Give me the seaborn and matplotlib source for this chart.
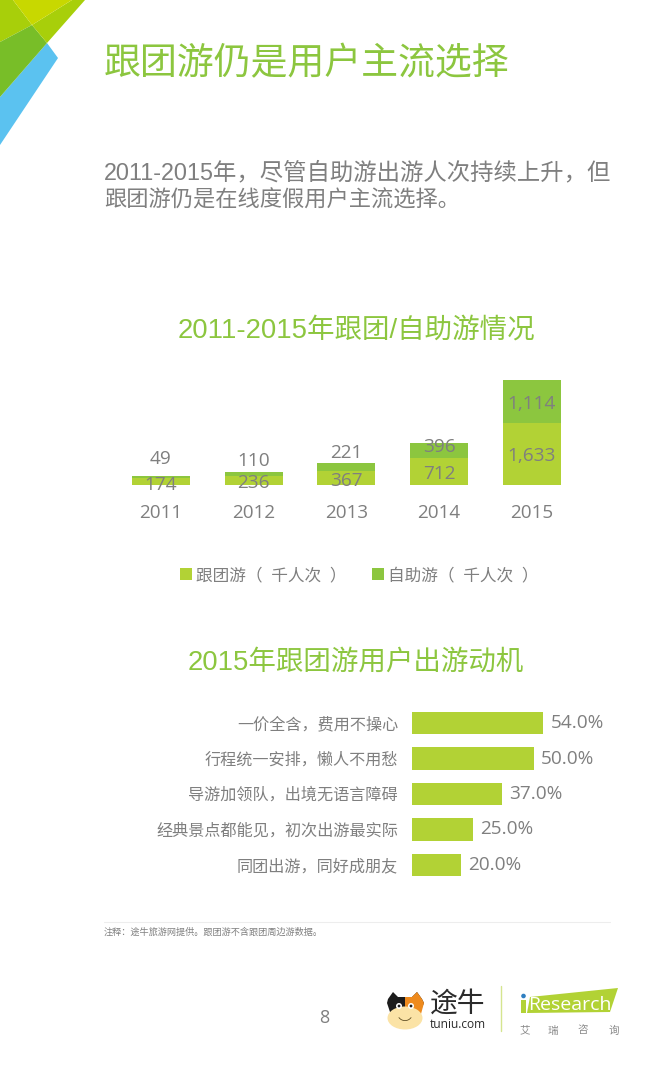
import matplotlib
matplotlib.use("Agg")
import matplotlib.pyplot as plt
from matplotlib.patches import Polygon, Ellipse, Circle, Wedge
import numpy as np
import pandas as pd
import seaborn as sns

# dados do grafico de barras empilhadas
anos = ['2011', '2012', '2013', '2014', '2015']
grupo = [174, 236, 367, 712, 1633]
livre = [49, 110, 221, 396, 1114]
grupo_fmt = ['174', '236', '367', '712', '1,633']
livre_fmt = ['49', '110', '221', '396', '1,114']

# dados das motivacoes
motivos = ['一价全含，费用不操心', '行程统一安排，懒人不用愁', '导游加领队，出境无语言障碍',
           '经典景点都能见，初次出游最实际', '同团出游，同好成朋友']
motivos_pct = [54.0, 50.0, 37.0, 25.0, 20.0]

W, H = 649, 1065
VERDE_CLARO = '#B2D235'
VERDE = '#8CC63F'
CINZA = '#7F7F7F'
ARIAL = ['Liberation Sans', 'Noto Sans CJK SC', 'DejaVu Sans']

sns.set_theme(style='white')
plt.rcParams['font.family'] = ['Open Sans', 'Noto Sans CJK SC', 'DejaVu Sans']
plt.rcParams['axes.unicode_minus'] = False

fig = plt.figure(figsize=(W / 100, H / 100), dpi=100, facecolor='white')


def eixo_px(x0, y0, x1, y1):
    """Cria um eixo a partir de uma caixa em pixels da imagem."""
    return fig.add_axes([x0 / W, 1 - y1 / H, (x1 - x0) / W, (y1 - y0) / H])


# camada de fundo, em pixels
bg = fig.add_axes([0, 0, 1, 1], zorder=0)
bg.set_xlim(0, W)
bg.set_ylim(H, 0)
bg.axis('off')

bg.add_patch(Polygon([(0, 97), (47, 43), (58, 58), (0, 145)], fc='#5BC2F0', ec='none'))
bg.add_patch(Polygon([(0, 0), (13, 0), (32, 25), (0, 42)], fc='#A8CF0A', ec='none'))
bg.add_patch(Polygon([(0, 42), (32, 25), (47, 43), (0, 97)], fc='#78BE28', ec='none'))
bg.add_patch(Polygon([(32, 25), (72, 0), (85, 0), (47, 43)], fc='#A8CF0A', ec='none'))
bg.add_patch(Polygon([(13, 0), (72, 0), (32, 25)], fc='#C8D800', ec='none'))

bg.text(104, 65, '跟团游仍是用户主流选择', fontsize=26.6, color=VERDE, va='center', ha='left', family=ARIAL)
bg.text(104, 173, '2011-2015年，尽管自助游出游人次持续上升，但', fontsize=16.8, color=CINZA, va='center', family=ARIAL)
bg.text(104, 201, '跟团游仍是在线度假用户主流选择。', fontsize=16.0, color=CINZA, va='center', family=ARIAL)
bg.text(356, 331, '2011-2015年跟团/自助游情况', fontsize=19.8, color=VERDE, va='center', ha='center', family=ARIAL)
bg.text(356, 663, '2015年跟团游用户出游动机', fontsize=19.8, color=VERDE, va='center', ha='center', family=ARIAL)

bg.plot([104, 610], [922, 922], color='#EDEDED', lw=0.8)
bg.text(104, 932, '注释：途牛旅游网提供。跟团游不含跟团周边游数据。', fontsize=6.6, color='#808080', va='center')
bg.text(324, 1018, '8', fontsize=13, color=CINZA, va='center', ha='center')

# logo tuniu
bg.add_patch(Polygon([(388, 999), (393, 992), (398, 997), (412, 997), (417, 992), (422, 999),
                      (424, 1003), (420, 1012), (390, 1012), (387, 1003)], fc='#1C1C1C', ec='none'))
bg.add_patch(Polygon([(405, 997), (412, 997), (417, 992), (422, 999), (424, 1003), (421, 1014), (405, 1014)],
                     fc='#EE8A1D', ec='none'))
bg.add_patch(Ellipse((405, 1018), 35, 23, fc='#FBE3A6', ec='none'))
bg.add_patch(Circle((399, 1006), 3, fc='white', ec='none'))
bg.add_patch(Circle((411, 1006), 3, fc='white', ec='none'))
bg.add_patch(Circle((399, 1006), 1.4, fc='#1C1C1C', ec='none'))
bg.add_patch(Circle((411, 1006), 1.4, fc='#1C1C1C', ec='none'))
bg.add_patch(Wedge((405, 1013), 8, 35, 145, width=0.8, fc='#5A4A20', ec='none'))
bg.text(458, 1005, '途牛', fontsize=20, color='#2B2B2B', va='center', ha='center')
bg.text(458, 1024, 'tuniu.com', fontsize=8.6, color='#2B2B2B', va='center', ha='center')
bg.plot([500.5, 500.5], [986, 1031], color='#D5E58F', lw=1)

# logo iResearch
bg.add_patch(Polygon([(530, 997), (618, 988), (610, 1012), (527, 1013)], fc=VERDE_CLARO, ec='none'))
bg.add_patch(Polygon([(521, 1000), (526, 1000), (526, 1013), (521, 1013)], fc=VERDE_CLARO, ec='none'))
bg.add_patch(Circle((523.5, 996), 2.3, fc='#2F7FC1', ec='none'))
bg.text(570, 1005.5, 'Research', fontsize=14, color='white', va='center', ha='center')
for letra, xp in zip('艾瑞咨询', [525, 553, 583, 614]):
    bg.text(xp, 1031, letra, fontsize=7.6, color='#8A8A8A', va='center', ha='center')

# barras empilhadas
ax = eixo_px(114.6, 380, 578, 485)
ax.patch.set_alpha(0)
base = pd.DataFrame({'ano': anos, 'grupo': grupo, 'livre': livre})
sns.barplot(data=base, x='ano', y='grupo', color=VERDE_CLARO, width=0.625, saturation=1, linewidth=0,
            label='跟团游（  千人次  ）', ax=ax)
sns.barplot(data=base, x='ano', y='livre', bottom=base['grupo'], color=VERDE, width=0.625, saturation=1, linewidth=0,
            label='自助游（  千人次  ）', ax=ax)
ax.set_xlim(-0.5, 4.5)
ax.set_ylim(0, sum([grupo[-1], livre[-1]]))
ax.set_xlabel('')
ax.set_ylabel('')
ax.set_yticks([])
ax.tick_params(axis='x', length=0, pad=13.5, labelsize=13.6, labelcolor=CINZA)
sns.despine(ax=ax, left=True, bottom=True)

# deslocamento dos rotulos em pontos, como no original
ajuste_grupo = [-2.4, -1.7, -2.1, -1.8, -1.4]
ajuste_livre = [13.2, 9.4, 9.7, 2.3, -2.1]
for i in range(len(anos)):
    ax.annotate(grupo_fmt[i], (i, grupo[i] / 2), xytext=(0, ajuste_grupo[i]), textcoords='offset points',
                ha='center', va='center', fontsize=13.7, color=CINZA)
    ax.annotate(livre_fmt[i], (i, grupo[i] + livre[i] / 2), xytext=(0, ajuste_livre[i]), textcoords='offset points',
                ha='center', va='center', fontsize=13.7, color=CINZA)

ax.legend(loc='center', bbox_to_anchor=(359 / W, 1 - 576 / H), bbox_transform=fig.transFigure, ncol=2,
          frameon=False, handlelength=0.72, handleheight=0.72, handletextpad=0.25, columnspacing=1.5,
          prop={'size': 12}, labelcolor=CINZA)

# barras horizontais
ax2 = eixo_px(412, 705.25, 412 + 100 * 2.435, 882.75)
ax2.patch.set_alpha(0)
mot = pd.DataFrame({'motivo': motivos, 'pct': motivos_pct})
sns.barplot(data=mot, y='motivo', x='pct', color=VERDE_CLARO, width=0.62, saturation=1, linewidth=0, ax=ax2)
ax2.set_xlim(0, 100)
ax2.set_ylim(4.5, -0.5)
ax2.set_xlabel('')
ax2.set_ylabel('')
ax2.set_xticks([])
ax2.tick_params(axis='y', length=0, pad=10, labelsize=11.6, labelcolor=CINZA)
sns.despine(ax=ax2, left=True, bottom=True)
for cont in ax2.containers:
    ax2.bar_label(cont, labels=[f'{v:.1f}%' for v in motivos_pct], padding=5, fontsize=13.7, color=CINZA)

fig.savefig('out.png', dpi=100, facecolor='white')
